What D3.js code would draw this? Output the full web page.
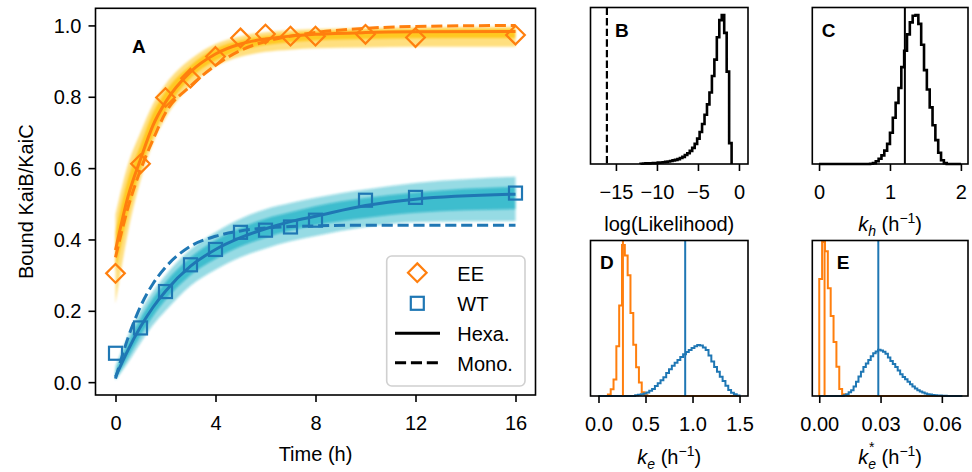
<!DOCTYPE html>
<html><head><meta charset="utf-8">
<script src="https://cdn.jsdelivr.net/npm/d3@7"></script>
<style>
html,body{margin:0;padding:0;background:#fff;}
svg{display:block;font-family:"Liberation Sans",Arial,Helvetica,sans-serif;}
</style></head><body>
<svg id="fig" width="972" height="472"></svg>
<script>
// ---------- Panel A: binding kinetics ----------
const fitTimes = [0, 0.5, 1, 1.5, 2, 3, 4, 5, 6, 7, 8, 10, 12, 16];
const eeHexa   = [0.37, 0.52, 0.625, 0.72, 0.785, 0.87, 0.92, 0.948, 0.962, 0.97, 0.975, 0.98, 0.982, 0.983];
const eeMono   = [0.35, 0.49, 0.595, 0.68, 0.755, 0.83, 0.888, 0.93, 0.955, 0.97, 0.98, 0.992, 0.997, 1.0];
const wtHexa   = [0.015, 0.09, 0.155, 0.21, 0.255, 0.325, 0.372, 0.405, 0.43, 0.45, 0.465, 0.495, 0.513, 0.527];
const wtMono   = [0.01, 0.124, 0.212, 0.276, 0.322, 0.381, 0.409, 0.424, 0.432, 0.436, 0.438, 0.44, 0.44, 0.44];
// posterior sample spread (outer and inner envelopes)
const eeOuterLo = [0.22, 0.42, 0.565, 0.67, 0.74, 0.83, 0.885, 0.912, 0.926, 0.932, 0.936, 0.938, 0.94, 0.94];
const eeOuterHi = [0.47, 0.61, 0.70, 0.78, 0.835, 0.905, 0.948, 0.97, 0.981, 0.987, 0.99, 0.993, 0.995, 0.996];
const eeInnerLo = [0.31, 0.47, 0.595, 0.69, 0.76, 0.852, 0.902, 0.93, 0.945, 0.953, 0.958, 0.962, 0.964, 0.965];
const eeInnerHi = [0.42, 0.57, 0.665, 0.755, 0.815, 0.888, 0.935, 0.958, 0.97, 0.977, 0.982, 0.986, 0.988, 0.989];
const wtOuterLo = [0.005, 0.055, 0.11, 0.16, 0.2, 0.27, 0.315, 0.35, 0.375, 0.395, 0.41, 0.435, 0.449, 0.452];
const wtOuterHi = [0.045, 0.13, 0.2, 0.255, 0.3, 0.372, 0.42, 0.458, 0.485, 0.502, 0.517, 0.54, 0.558, 0.576];
const wtInnerLo = [0.01, 0.07, 0.13, 0.185, 0.23, 0.3, 0.345, 0.38, 0.405, 0.425, 0.44, 0.46, 0.475, 0.485];
const wtInnerHi = [0.03, 0.11, 0.178, 0.235, 0.28, 0.35, 0.398, 0.432, 0.458, 0.476, 0.493, 0.516, 0.532, 0.548];
// measurements
const obsTimes = [0, 1, 2, 3, 4, 5, 6, 7, 8, 10, 12, 16];
const eeObs = [0.305, 0.612, 0.798, 0.852, 0.913, 0.965, 0.976, 0.970, 0.970, 0.975, 0.966, 0.973];
const wtObs = [0.081, 0.152, 0.254, 0.329, 0.372, 0.42, 0.426, 0.435, 0.454, 0.51, 0.518, 0.53];
const timeTicks = [0, 4, 8, 12, 16];
const fracTicks = [0, 0.2, 0.4, 0.6, 0.8, 1.0];
const legendLabels = ["EE", "WT", "Hexa.", "Mono."];

// ---------- Panel B: log-likelihood ----------
const likeStart = -12.0, likeWidth = 0.3;
const likeCounts = [0.002, 0.003, 0.004, 0.004, 0.005, 0.006, 0.007, 0.009, 0.010, 0.012,
  0.014, 0.017, 0.020, 0.024, 0.028, 0.033, 0.040, 0.048, 0.060, 0.072,
  0.088, 0.108, 0.135, 0.170, 0.215, 0.268, 0.330, 0.400, 0.480, 0.590,
  0.700, 0.850, 0.965, 1.000, 0.880, 0.620, 0.140];
const likeMono = -16.1;
const likeTicks = [-15, -10, -5, 0];

// ---------- Panel C: k_h ----------
const khStart = 0.72, khWidth = 0.04;
const khCounts = [0.002, 0.006, 0.018, 0.035, 0.058, 0.09, 0.135, 0.21, 0.31, 0.41,
  0.51, 0.65, 0.76, 0.87, 0.95, 0.995, 1.0, 0.94, 0.80, 0.63,
  0.50, 0.38, 0.26, 0.16, 0.075, 0.025, 0.006];
const khRange = [0, 2];
const khBest = 1.21;
const khTicks = [0, 1, 2];

// ---------- Panel D: k_e ----------
const keEEStart = 0.10, keEEWidth = 0.03;
const keEECounts = [0.01, 0.045, 0.11, 0.33, 0.60, 1.00, 0.93, 0.80, 0.55, 0.34, 0.19, 0.09, 0.025, 0.005];
const keWTStart = 0.39, keWTWidth = 0.03;
const keWTCounts = [0.005, 0.008, 0.012, 0.017, 0.024, 0.034, 0.046, 0.066, 0.085, 0.104,
  0.125, 0.152, 0.177, 0.200, 0.220, 0.238, 0.258, 0.276, 0.292, 0.305,
  0.318, 0.330, 0.337, 0.334, 0.322, 0.305, 0.268, 0.228, 0.192, 0.160,
  0.128, 0.100, 0.068, 0.040, 0.022, 0.011, 0.004];
const keRange = [0, 1.5];
const keBestEE = 0.26, keBestWT = 0.922;
const keTicks = [0, 0.5, 1.0, 1.5];

// ---------- Panel E: k_e* ----------
const kesEEStart = 0.0, kesEEWidth = 0.0014;
const kesEECounts = [0.76, 1.00, 0.94, 0.70, 0.52, 0.35, 0.19, 0.045, 0.012, 0.003];
const kesWTStart = 0.012, kesWTWidth = 0.0012;
const kesWTCounts = [0.005, 0.012, 0.025, 0.038, 0.062, 0.093, 0.127, 0.158, 0.188, 0.211,
  0.234, 0.258, 0.278, 0.289, 0.300, 0.296, 0.288, 0.274, 0.250, 0.228,
  0.208, 0.189, 0.165, 0.142, 0.124, 0.108, 0.092, 0.077, 0.062, 0.049,
  0.037, 0.029, 0.023, 0.017, 0.012, 0.009, 0.007, 0.005, 0.004, 0.003,
  0.002, 0.001];
const kesRange = [0, 0.07];
const kesBestEE = 0.0026, kesBestWT = 0.0289;
const kesTicks = [0, 0.03, 0.06];

// ---------- styling ----------
const ORANGE = "#ff7f0e", BLUE = "#1f77b4";
const GOLD = "#ffc000", TEAL = "#17b0c4";
const FONT = 20;
const svg = d3.select("#fig");
const defs = svg.append("defs");
defs.append("filter").attr("id", "soft").attr("x", "-5%").attr("y", "-5%").attr("width", "110%").attr("height", "110%")
  .append("feGaussianBlur").attr("stdDeviation", 1.1);

function makePanel(box, xDom, yDom) {
  const x = d3.scaleLinear().domain(xDom).range([box.l, box.r]);
  const y = d3.scaleLinear().domain(yDom).range([box.b, box.t]);
  return {x, y, box, g: svg.append("g")};
}
function frame(p) {
  svg.append("rect").attr("x", p.box.l).attr("y", p.box.t)
    .attr("width", p.box.r - p.box.l).attr("height", p.box.b - p.box.t)
    .attr("fill", "none").attr("stroke", "#000").attr("stroke-width", 1.6);
}
function xAxis(p, ticks, fmt) {
  const ax = svg.append("g").attr("transform", `translate(0,${p.box.b})`)
    .call(d3.axisBottom(p.x).tickValues(ticks).tickFormat(fmt).tickSize(7).tickPadding(7));
  ax.attr("font-size", null).attr("font-family", null);
  ax.select(".domain").remove();
  ax.selectAll(".tick line").attr("stroke", "#000").attr("stroke-width", 1.6);
  ax.selectAll(".tick text").attr("fill", "#000").attr("font-size", FONT).attr("y", 35).attr("dy", null);
}
function yAxis(p, ticks, fmt) {
  const ax = svg.append("g").attr("transform", `translate(${p.box.l},0)`)
    .call(d3.axisLeft(p.y).tickValues(ticks).tickFormat(fmt).tickSize(7).tickPadding(7));
  ax.attr("font-size", null).attr("font-family", null);
  ax.select(".domain").remove();
  ax.selectAll(".tick line").attr("stroke", "#000").attr("stroke-width", 1.6);
  ax.selectAll(".tick text").attr("fill", "#000").attr("font-size", FONT).attr("dy", "0.35em");
}
function letter(p, txt, dx, dy) {
  svg.append("text").attr("x", p.box.l + dx).attr("y", p.box.t + dy)
    .attr("font-size", 19).attr("font-weight", "bold").text(txt);
}
function vline(p, v, color, width, dash) {
  p.g.append("line").attr("x1", p.x(v)).attr("x2", p.x(v))
    .attr("y1", p.box.t).attr("y2", p.box.b)
    .attr("stroke", color).attr("stroke-width", width)
    .attr("stroke-dasharray", dash || null);
}
function stepHist(p, start, width, counts, range, color, lw) {
  const pts = [];
  if (range) pts.push([range[0], 0]);
  pts.push([start, 0]);
  counts.forEach((c, i) => {
    pts.push([start + i * width, c]);
    pts.push([start + (i + 1) * width, c]);
  });
  pts.push([start + counts.length * width, 0]);
  if (range) pts.push([range[1], 0]);
  p.g.append("path")
    .attr("d", d3.line().x(d => p.x(d[0])).y(d => p.y(d[1]))(pts))
    .attr("fill", "none").attr("stroke", color).attr("stroke-width", lw)
    .attr("stroke-linejoin", "miter");
}

// ---------- Panel A ----------
const A = makePanel({l: 95.5, r: 535.5, t: 8.3, b: 395}, [-0.8, 16.8], [-0.036, 1.048]);
const pair = (ts, vs) => ts.map((t, i) => [t, vs[i]]);
const curve = d3.line().x(d => A.x(d[0])).y(d => A.y(d[1])).curve(d3.curveMonotoneX);
const band = (lo, hi) => d3.area().x((d, i) => A.x(fitTimes[i]))
  .y0((d, i) => A.y(lo[i])).y1((d, i) => A.y(hi[i])).curve(d3.curveMonotoneX)(fitTimes);

const bands = A.g.append("g").attr("filter", "url(#soft)");
[[eeOuterLo, eeOuterHi, GOLD, 0.5], [eeInnerLo, eeInnerHi, GOLD, 0.75],
 [wtOuterLo, wtOuterHi, TEAL, 0.45], [wtInnerLo, wtInnerHi, TEAL, 0.7]].forEach(([lo, hi, c, o]) => {
  bands.append("path").attr("d", band(lo, hi)).attr("fill", c).attr("fill-opacity", o);
});

[[eeMono, ORANGE, "11.1,4.8"], [wtMono, BLUE, "11.1,4.8"], [eeHexa, ORANGE, null], [wtHexa, BLUE, null]]
  .forEach(([vals, c, dash]) => {
    A.g.append("path").attr("d", curve(pair(fitTimes, vals)))
      .attr("fill", "none").attr("stroke", c).attr("stroke-width", 3)
      .attr("stroke-dasharray", dash);
  });

const diamond = r => `M0,${-r}L${r},0L0,${r}L${-r},0Z`;
A.g.selectAll(".ee").data(pair(obsTimes, eeObs)).join("path")
  .attr("transform", d => `translate(${A.x(d[0])},${A.y(d[1])})`)
  .attr("d", diamond(9.3)).attr("fill", "none").attr("stroke", ORANGE).attr("stroke-width", 2.2);
A.g.selectAll(".wt").data(pair(obsTimes, wtObs)).join("rect")
  .attr("x", d => A.x(d[0]) - 6.5).attr("y", d => A.y(d[1]) - 6.5)
  .attr("width", 13).attr("height", 13)
  .attr("fill", "none").attr("stroke", BLUE).attr("stroke-width", 2.2);

xAxis(A, timeTicks, d3.format("d"));
yAxis(A, fracTicks, d3.format(".1f"));
frame(A);
letter(A, "A", 36.5, 45);
svg.append("text").attr("x", 315.5).attr("y", 461).attr("text-anchor", "middle")
  .attr("font-size", FONT).text("Time (h)");
svg.append("text").attr("transform", "translate(33,201.7) rotate(-90)").attr("text-anchor", "middle")
  .attr("font-size", FONT).text("Bound KaiB/KaiC");

// legend
const lg = svg.append("g");
lg.append("rect").attr("x", 386.7).attr("y", 256).attr("width", 138.3).attr("height", 130)
  .attr("rx", 5).attr("fill", "#fff").attr("fill-opacity", 0.8)
  .attr("stroke", "#d0d0d0").attr("stroke-width", 1.6);
const rowY = [272.7, 303.3, 333.3, 362.7];
lg.append("path").attr("transform", `translate(417.3,${rowY[0]})`).attr("d", diamond(9.3))
  .attr("fill", "none").attr("stroke", ORANGE).attr("stroke-width", 2.2);
lg.append("rect").attr("x", 417.3 - 6.5).attr("y", rowY[1] - 6.5).attr("width", 13).attr("height", 13)
  .attr("fill", "none").attr("stroke", BLUE).attr("stroke-width", 2.2);
lg.append("line").attr("x1", 395).attr("x2", 440).attr("y1", rowY[2]).attr("y2", rowY[2])
  .attr("stroke", "#000").attr("stroke-width", 3);
lg.append("line").attr("x1", 395).attr("x2", 440).attr("y1", rowY[3]).attr("y2", rowY[3])
  .attr("stroke", "#000").attr("stroke-width", 3).attr("stroke-dasharray", "11.1,4.8");
legendLabels.forEach((t, i) => {
  lg.append("text").attr("x", 457.3).attr("y", rowY[i] + 7.8).attr("font-size", FONT).text(t);
});

// ---------- Panel B ----------
const B = makePanel({l: 590.5, r: 748, t: 7.5, b: 164}, [-18.1, 1.1], [0, 1.05 * d3.max(likeCounts)]);
stepHist(B, likeStart, likeWidth, likeCounts, null, "#000", 2.6);
vline(B, likeMono, "#000", 2.2, "7.4,3.2");
xAxis(B, likeTicks, d3.format("d"));
frame(B);
letter(B, "B", 24.5, 29.2);
svg.append("text").attr("x", (B.box.l + B.box.r) / 2).attr("y", 230.5).attr("text-anchor", "middle")
  .attr("font-size", FONT).text("log(Likelihood)");

// ---------- Panel C ----------
const C = makePanel({l: 812.3, r: 968, t: 7.5, b: 164}, [-0.095, 2.1], [0, 1.05 * d3.max(khCounts)]);
stepHist(C, khStart, khWidth, khCounts, khRange, "#000", 2.6);
vline(C, khBest, "#000", 2);
xAxis(C, khTicks, d3.format("d"));
frame(C);
letter(C, "C", 9.4, 29.2);

// ---------- Panel D ----------
const D = makePanel({l: 590.5, r: 748, t: 240.5, b: 396}, [-0.085, 1.59],
  [0, 1.03 * d3.max(keEECounts.concat(keWTCounts))]);
stepHist(D, keEEStart, keEEWidth, keEECounts, keRange, ORANGE, 2);
stepHist(D, keWTStart, keWTWidth, keWTCounts, keRange, BLUE, 2);
vline(D, keBestEE, ORANGE, 2);
vline(D, keBestWT, BLUE, 2);
xAxis(D, keTicks, d3.format(".1f"));
frame(D);
letter(D, "D", 9.5, 28.2);

// ---------- Panel E ----------
const E = makePanel({l: 812.3, r: 968, t: 240.5, b: 396}, [-0.0034, 0.0728],
  [0, 1.01 * d3.max(kesEECounts.concat(kesWTCounts))]);
stepHist(E, kesEEStart, kesEEWidth, kesEECounts, kesRange, ORANGE, 2);
stepHist(E, kesWTStart, kesWTWidth, kesWTCounts, kesRange, BLUE, 2);
vline(E, kesBestEE, ORANGE, 2);
vline(E, kesBestWT, BLUE, 2);
xAxis(E, kesTicks, d3.format(".2f"));
frame(E);
letter(E, "E", 24.4, 28.2);

// rate-constant axis labels (italic k with sub/superscripts)
function rateLabel(cx, y, sub, withStar) {
  const t = svg.append("text").attr("x", cx).attr("y", y).attr("text-anchor", "middle").attr("font-size", FONT);
  t.append("tspan").attr("font-style", "italic").text("k");
  t.append("tspan").attr("font-style", "italic").attr("font-size", 14).attr("dy", 5).text(sub);
  if (withStar) {
    t.append("tspan").attr("font-size", 14).attr("dx", -7).attr("dy", -17).text("*");
    t.append("tspan").attr("dx", 1.5).attr("dy", 12).text(" (h");
  } else {
    t.append("tspan").attr("dy", -5).text(" (h");
  }
  t.append("tspan").attr("font-size", 14).attr("dy", -8).text("\u22121");
  t.append("tspan").attr("dy", 8).text(")");
}
rateLabel((C.box.l + C.box.r) / 2, 230.5, "h", false);
rateLabel((D.box.l + D.box.r) / 2, 464, "e", false);
rateLabel((E.box.l + E.box.r) / 2, 464, "e", true);
</script>
</body></html>
